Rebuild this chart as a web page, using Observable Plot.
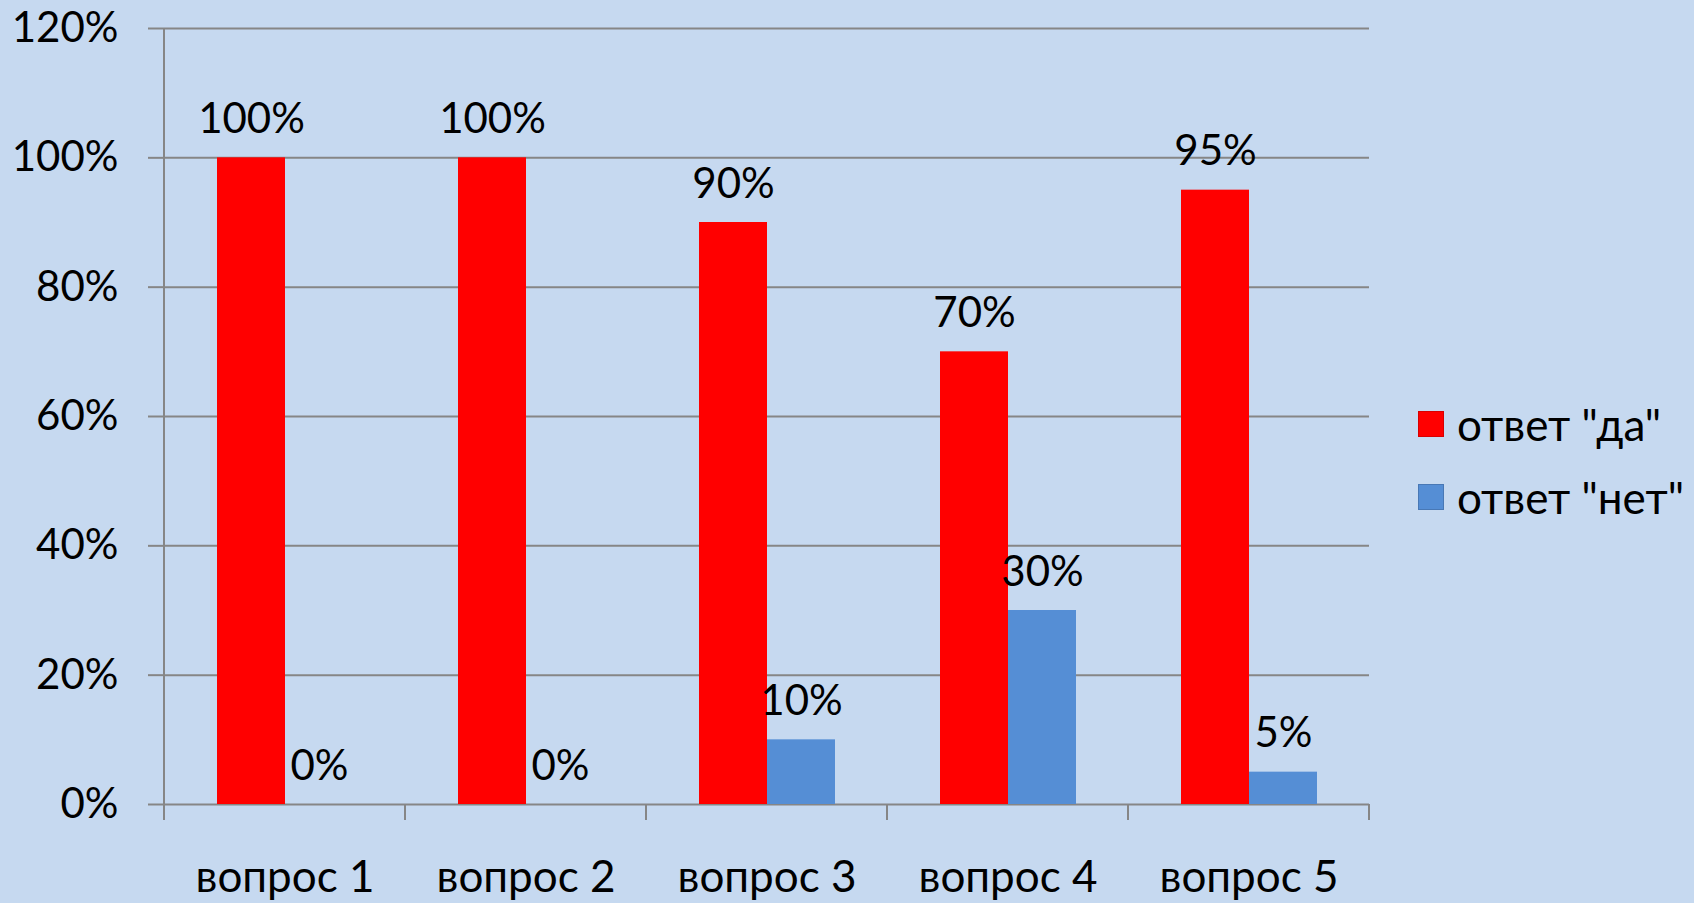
<!DOCTYPE html>
<html>
<head>
<meta charset="utf-8">
<script src="https://cdn.jsdelivr.net/npm/d3@7"></script>
<script src="https://cdn.jsdelivr.net/npm/@observablehq/plot@0.6"></script>
<style>
  html, body { margin: 0; padding: 0; background: #c6d9f0; }
  #chart { position: relative; width: 1694px; height: 903px; overflow: hidden; font-family: Lato, "Open Sans", sans-serif; }
  #chart svg { display: block; }
  .legend { position: absolute; left: 1418px; top: 396px; font-size: 44px; color: #000; }
  .legend .row { display: flex; align-items: center; height: 56px; margin-bottom: 17px; white-space: pre; }
  .legend .sw { width: 26px; height: 26px; margin-right: 13px; box-sizing: border-box; border: 1px solid rgba(0,0,0,0.15); }
</style>
</head>
<body>
<div id="chart"></div>
<script>
// Survey results: share of "yes" and "no" answers per question
const questions = ["вопрос 1", "вопрос 2", "вопрос 3", "вопрос 4", "вопрос 5"];
const seriesNames = ['ответ "да"', 'ответ "нет"'];
const yesValues = [1.00, 1.00, 0.90, 0.70, 0.95];
const noValues = [0.00, 0.00, 0.10, 0.30, 0.05];
const yTicks = [0, 0.2, 0.4, 0.6, 0.8, 1.0, 1.2];
const seriesColors = ["#ff0000", "#558ed5"];

const rows = questions.flatMap((q, i) => [
  {question: q, series: seriesNames[0], value: yesValues[i]},
  {question: q, series: seriesNames[1], value: noValues[i]}
]);
const pct = d3.format(".0%");
const gridColor = "#868686";

// Axis line on the left plus category boundary ticks under the baseline
function boundaryTicks(index, scales) {
  const {fx, y} = scales;
  const g = d3.create("svg:g").attr("stroke", gridColor).attr("stroke-width", 2).attr("fill", "none");
  const bw = fx.bandwidth();
  const edges = questions.map((q) => fx(q)).concat([fx(questions[questions.length - 1]) + bw]);
  const y0 = y(0);
  g.append("line").attr("x1", edges[0]).attr("x2", edges[0]).attr("y1", y(yTicks[yTicks.length - 1])).attr("y2", y0 + 16);
  for (const e of edges.slice(1)) {
    g.append("line").attr("x1", e).attr("x2", e).attr("y1", y0).attr("y2", y0 + 16);
  }
  return g.node();
}

const chart = Plot.plot({
  width: 1694,
  height: 903,
  marginLeft: 163,
  marginRight: 324,
  marginTop: 28,
  marginBottom: 99,
  style: {background: "#c6d9f0", fontFamily: "Lato, 'Open Sans', sans-serif", fontSize: "42px", color: "#000"},
  fx: {domain: questions, padding: 0, label: null},
  x: {domain: seriesNames, paddingInner: 0, paddingOuter: 0.75, axis: null},
  y: {domain: [0, 1.2], label: null},
  color: {domain: seriesNames, range: seriesColors},
  marks: [
    Plot.gridY(yTicks, {stroke: gridColor, strokeOpacity: 1, strokeWidth: 2}),
    Plot.axisY({ticks: yTicks, tickSize: 16, tickPadding: 30, tickFormat: pct, fontSize: 42, label: null, stroke: gridColor, strokeWidth: 2, strokeOpacity: 1}),
    Plot.axisFx({anchor: "bottom", tickSize: 0, tickPadding: 56, fontSize: 44, label: null}),
    Plot.barY(rows, {fx: "question", x: "series", y: "value", fill: "series"}),
    Plot.text(rows, {fx: "question", x: "series", y: "value", text: (d) => pct(d.value), lineAnchor: "bottom", dy: -25, fontSize: 42, fill: "#000"}),
    Plot.frame({facet: "super", stroke: "none", render: boundaryTicks})
  ]
});

const root = document.getElementById("chart");
root.appendChild(chart);

const legend = document.createElement("div");
legend.className = "legend";
seriesNames.forEach((name, i) => {
  const row = document.createElement("div");
  row.className = "row";
  const sw = document.createElement("span");
  sw.className = "sw";
  sw.style.background = seriesColors[i];
  const label = document.createElement("span");
  label.textContent = name;
  row.appendChild(sw);
  row.appendChild(label);
  legend.appendChild(row);
});
root.appendChild(legend);
</script>
</body>
</html>
